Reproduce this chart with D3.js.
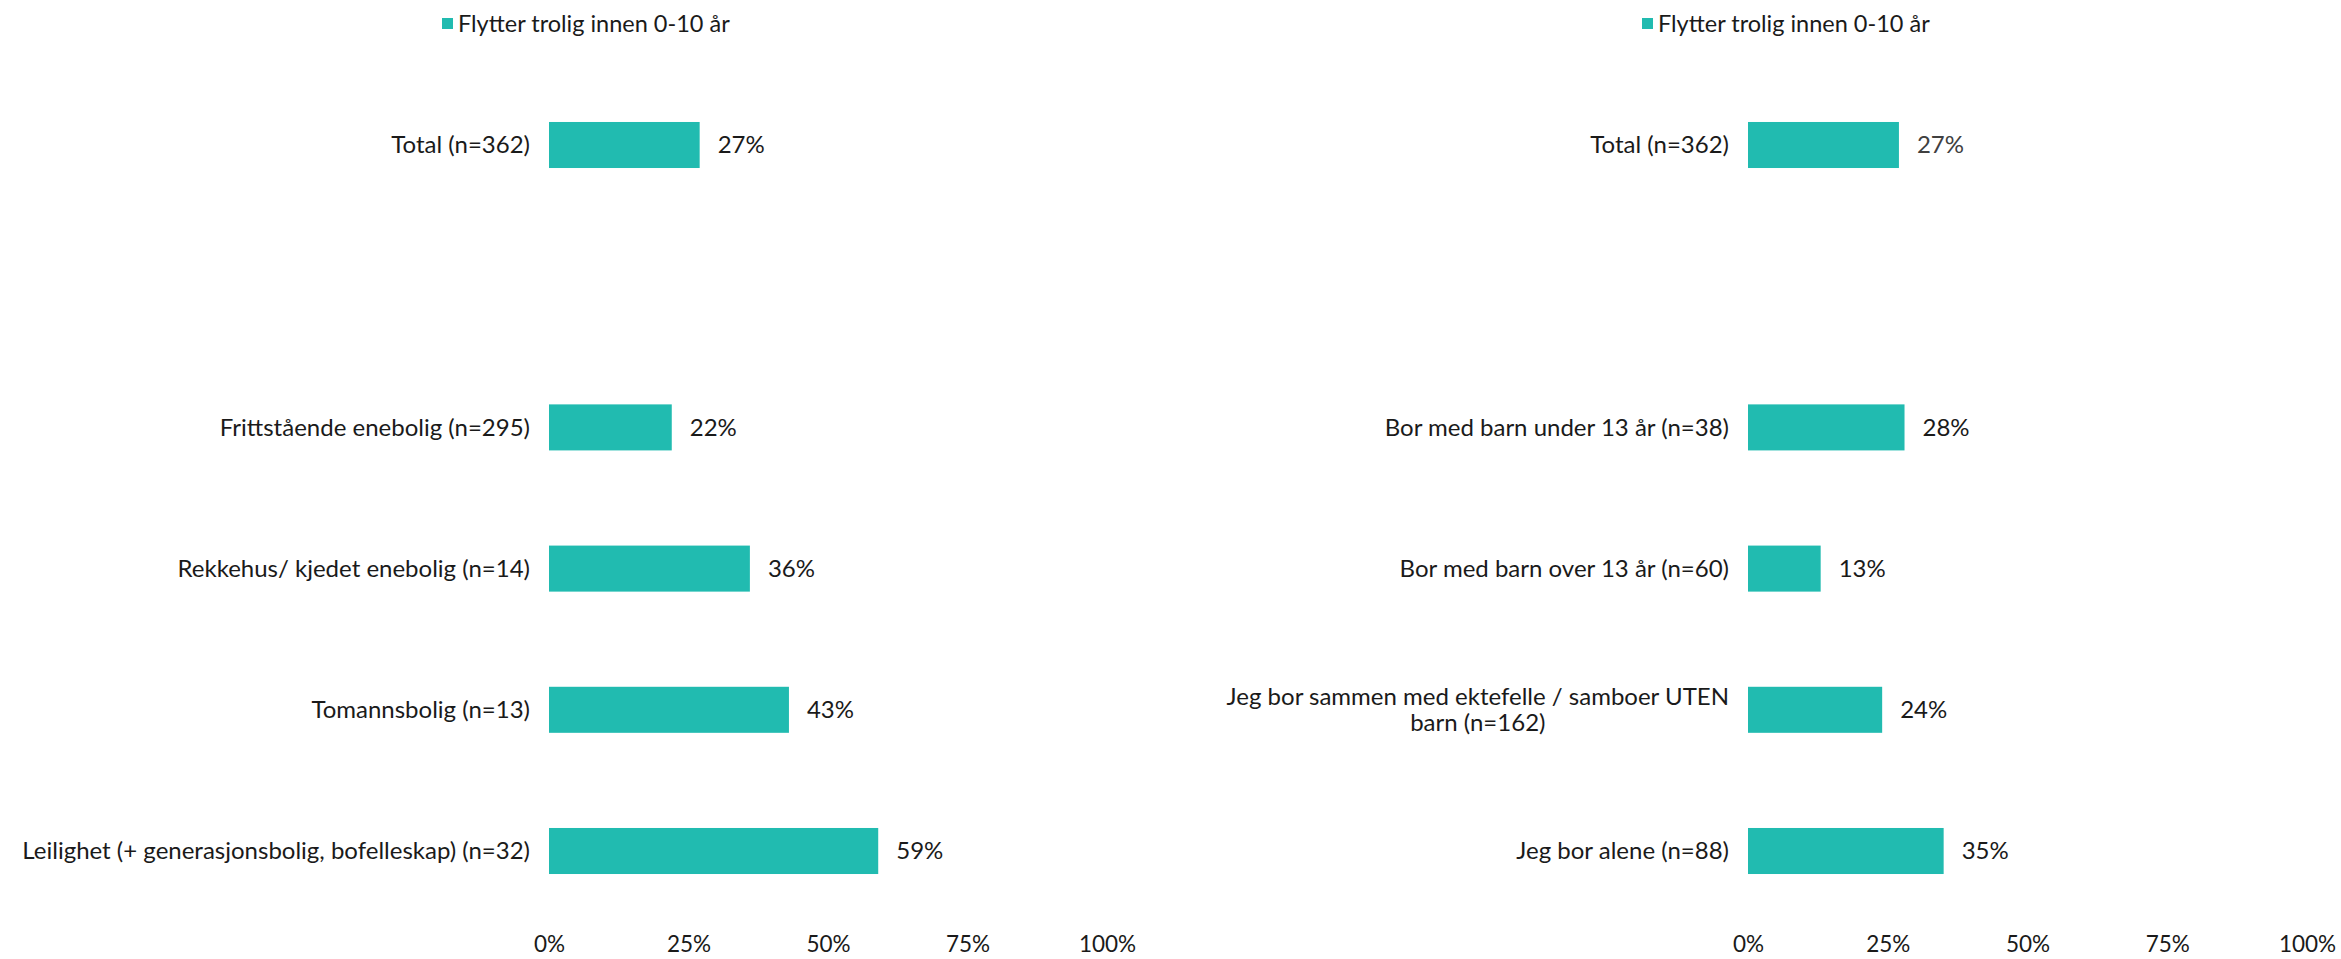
<!DOCTYPE html>
<html>
<head>
<meta charset="utf-8">
<script src="https://cdn.jsdelivr.net/npm/d3@7"></script>
<style>
  html, body { margin: 0; padding: 0; background: #fff; }
  svg text { font-family: Lato, "Noto Sans", sans-serif; fill: #1a1a1a; }
</style>
</head>
<body>
<svg id="chart" width="2341" height="959"></svg>
<script>
// Share who will probably move within 0-10 years, by housing type and household.
const seriesName = "Flytter trolig innen 0-10 år";

const leftCategories = [
  "Total (n=362)",
  "",
  "Frittstående enebolig (n=295)",
  "Rekkehus/ kjedet enebolig (n=14)",
  "Tomannsbolig (n=13)",
  "Leilighet (+ generasjonsbolig, bofelleskap) (n=32)"
];
const leftValues = [27, null, 22, 36, 43, 59];

const rightCategories = [
  "Total (n=362)",
  "",
  "Bor med barn under 13 år (n=38)",
  "Bor med barn over 13 år (n=60)",
  "Jeg bor sammen med ektefelle / samboer UTEN|barn (n=162)",
  "Jeg bor alene (n=88)"
];
const rightValues = [27, null, 28, 13, 24, 35];

const tickValues = [0, 25, 50, 75, 100];

const barColor = "#21BBB0";
const labelSize = "24px";
const valueSize = "24px";
const legendSize = "23.5px";
const tickSize = "22.5px";
const svg = d3.select("#chart");

function panel(cfg) {
  const { categories, values, x0, x1, legendX, totalValueColor } = cfg;
  const rows = categories.map((c, i) => ({ key: "r" + i, label: c, value: values[i] }));

  const x = d3.scaleLinear().domain([0, 100]).range([x0, x1]);
  const pad = 0.674;
  const y = d3.scaleBand()
    .domain(rows.map(d => d.key))
    .range([74.4, 921.6])
    .paddingInner(pad)
    .paddingOuter(pad / 2);

  const g = svg.append("g");

  // legend
  const lg = g.append("g").attr("transform", `translate(${legendX},24)`);
  lg.append("rect").attr("x", 0).attr("y", -6).attr("width", 11).attr("height", 11).attr("fill", barColor);
  lg.append("text").attr("x", 16).attr("y", 0).attr("dy", "0.35em")
    .style("font-size", legendSize).text(seriesName);

  const data = rows.filter(d => d.value != null);

  // bars
  g.selectAll("rect.bar").data(data).join("rect")
    .attr("class", "bar")
    .attr("x", x(0))
    .attr("y", d => y(d.key))
    .attr("width", d => x(d.value) - x(0))
    .attr("height", y.bandwidth())
    .attr("fill", barColor);

  // value labels
  g.selectAll("text.val").data(data).join("text")
    .attr("class", "val")
    .attr("x", d => x(d.value) + 18)
    .attr("y", d => y(d.key) + y.bandwidth() / 2)
    .attr("dy", "0.35em")
    .style("font-size", valueSize)
    .style("fill", (d, i) => (i === 0 && totalValueColor) ? totalValueColor : null)
    .text(d => d.value + "%");

  // category labels (lines split on "|", centered within a right-aligned block)
  data.forEach(d => {
    const lines = d.label.split("|");
    const cy = y(d.key) + y.bandwidth() / 2;
    const lineH = 27;
    const t = g.append("text")
      .style("font-size", labelSize)
      .attr("y", cy - (lines.length - 1) * lineH / 2)
      .attr("dy", "0.35em");
    if (lines.length === 1) {
      t.attr("x", x(0) - 19).attr("text-anchor", "end").text(lines[0]);
    } else {
      t.text(lines[0]).attr("text-anchor", "end").attr("x", x(0) - 19);
      const w = t.node().getComputedTextLength();
      const cx = x(0) - 19 - w / 2;
      t.attr("text-anchor", "middle").attr("x", cx);
      g.append("text")
        .style("font-size", labelSize)
        .attr("text-anchor", "middle")
        .attr("x", cx)
        .attr("y", cy + (lines.length - 1) * lineH / 2 - 1)
        .attr("dy", "0.35em")
        .text(lines[1]);
    }
  });

  // x axis (labels only)
  const axis = d3.axisBottom(x).tickValues(tickValues).tickSize(0).tickFormat(d => d + "%");
  const ax = g.append("g").attr("transform", "translate(0,933)").call(axis);
  ax.select(".domain").remove();
  ax.selectAll("text").style("font-size", tickSize).style("font-family", "Lato, 'Noto Sans', sans-serif").attr("fill", "#1a1a1a");
}

panel({ categories: leftCategories, values: leftValues, x0: 549, x1: 1107, legendX: 442 });
panel({ categories: rightCategories, values: rightValues, x0: 1748, x1: 2307, legendX: 1642, totalValueColor: "#404040" });
</script>
</body>
</html>
